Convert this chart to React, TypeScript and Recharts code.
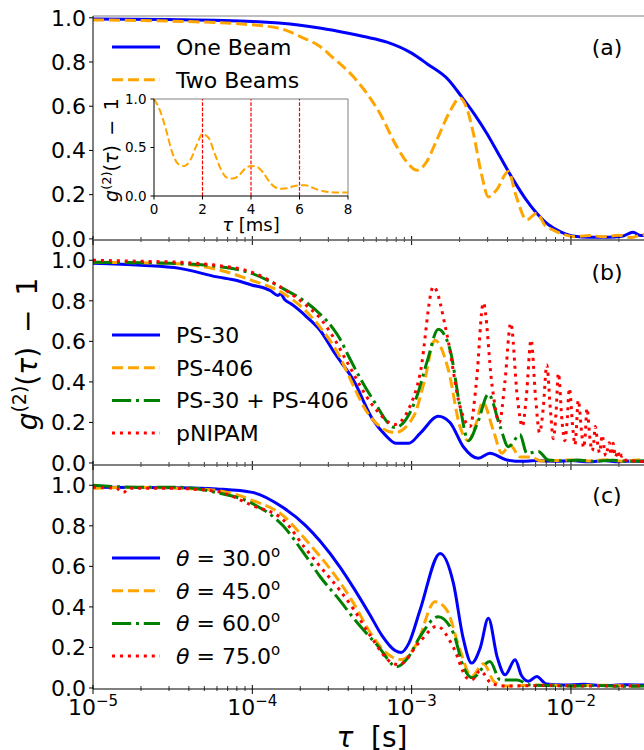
import React from "react";
import { LineChart, Line, XAxis, YAxis, ReferenceLine, Legend } from "recharts";

const FONT = "DejaVu Sans";

// tau [s], g2(tau)-1
type Pt = [number, number];

const oneBeam: Pt[] = [
  [1e-5, 0.995], [3e-5, 0.992], [1e-4, 0.983], [2e-4, 0.966], [2.7e-4, 0.953], [4e-4, 0.93],
  [5e-4, 0.915], [7e-4, 0.89], [1e-3, 0.84], [1.26e-3, 0.79], [1.7e-3, 0.72], [2.05e-3, 0.645],
  [2.5e-3, 0.56], [2.96e-3, 0.478], [3.6e-3, 0.37], [4.35e-3, 0.267], [5.2e-3, 0.18], [6.1e-3, 0.116],
  [7.2e-3, 0.065], [8.55e-3, 0.033], [1.05e-2, 0.012], [1.3e-2, 0.008], [1.7e-2, 0.008],
  [2.1e-2, 0.012], [2.45e-2, 0.03], [2.75e-2, 0.015], [3.1e-2, 0.02],
];
const twoBeams: Pt[] = [
  [1e-5, 0.99], [3e-5, 0.985], [1e-4, 0.968], [1.6e-4, 0.945], [2.0e-4, 0.915], [2.66e-4, 0.87],
  [3.2e-4, 0.82], [4.3e-4, 0.734], [6.3e-4, 0.569], [8.06e-4, 0.418], [9.5e-4, 0.34], [1.08e-3, 0.31],
  [1.22e-3, 0.34], [1.44e-3, 0.448], [1.75e-3, 0.58], [2.01e-3, 0.637], [2.22e-3, 0.59],
  [2.44e-3, 0.478], [2.75e-3, 0.29], [3.03e-3, 0.19], [3.4e-3, 0.22], [4.05e-3, 0.305],
  [4.5e-3, 0.2], [5.28e-3, 0.086], [6.1e-3, 0.116], [6.9e-3, 0.06], [7.76e-3, 0.04], [9e-3, 0.02],
  [1.05e-2, 0.01], [1.3e-2, 0.015], [1.6e-2, 0.01], [2.0e-2, 0.016], [2.4e-2, 0.006],
  [2.8e-2, 0.02], [3.1e-2, 0.012],
];

// inset: tau [ms], g2-1
const insetTwoBeams: Pt[] = [
  [0, 1.0], [0.25, 0.88], [0.5, 0.68], [0.75, 0.45], [1.0, 0.33], [1.25, 0.31], [1.5, 0.37],
  [1.75, 0.52], [2.0, 0.64], [2.25, 0.6], [2.5, 0.44], [2.75, 0.28], [3.0, 0.19], [3.25, 0.18],
  [3.5, 0.21], [3.75, 0.28], [4.0, 0.31], [4.25, 0.3], [4.5, 0.24], [4.75, 0.15], [5.0, 0.09],
  [5.25, 0.075], [5.5, 0.08], [5.75, 0.1], [6.0, 0.11], [6.25, 0.11], [6.5, 0.09], [6.75, 0.065],
  [7.0, 0.05], [7.25, 0.04], [7.5, 0.035], [7.75, 0.035], [8.0, 0.035],
];
const insetMarksMs = [2, 4, 6];

const ps30: Pt[] = [
  [1e-5, 0.985], [2e-5, 0.975], [3.5e-5, 0.96], [6e-5, 0.918], [8e-5, 0.9], [1e-4, 0.877],
  [1.2e-4, 0.862], [1.3e-4, 0.85], [1.45e-4, 0.826], [1.5e-4, 0.835], [1.6e-4, 0.805], [1.75e-4, 0.785],
  [2.2e-4, 0.72], [2.66e-4, 0.655], [3.3e-4, 0.54], [4.3e-4, 0.41], [5.75e-4, 0.21], [6.8e-4, 0.14],
  [8.0e-4, 0.097], [9.6e-4, 0.097], [1.13e-3, 0.146], [1.47e-3, 0.23], [1.74e-3, 0.2],
  [2.11e-3, 0.08], [2.62e-3, 0.023], [3.1e-3, 0.048], [3.95e-3, 0.015], [5e-3, 0.008],
  [6e-3, 0.012], [8e-3, 0.008], [1e-2, 0.012], [1.3e-2, 0.006], [1.6e-2, 0.012], [2e-2, 0.006],
  [2.5e-2, 0.01], [3.1e-2, 0.005],
];
const ps406: Pt[] = [
  [1e-5, 0.99], [3e-5, 0.985], [6e-5, 0.955], [1e-4, 0.9], [1.56e-4, 0.837], [2.2e-4, 0.745],
  [2.66e-4, 0.67], [3.56e-4, 0.52], [3.92e-4, 0.45], [5.48e-4, 0.23], [7.87e-4, 0.15],
  [1.03e-3, 0.23], [1.2e-3, 0.4], [1.4e-3, 0.605], [1.7e-3, 0.46], [2.01e-3, 0.18], [2.27e-3, 0.11],
  [2.55e-3, 0.2], [2.79e-3, 0.3], [3.26e-3, 0.16], [3.68e-3, 0.048], [4.15e-3, 0.089],
  [4.79e-3, 0.03], [5.6e-3, 0.03], [6.5e-3, 0.01], [8e-3, 0.012], [1e-2, 0.015], [1.3e-2, 0.01],
  [1.7e-2, 0.016], [2.1e-2, 0.008], [2.6e-2, 0.015], [3.1e-2, 0.01],
];
const psMix: Pt[] = [
  [1e-5, 0.99], [3e-5, 0.985], [6e-5, 0.97], [1e-4, 0.934], [1.56e-4, 0.86], [2.2e-4, 0.79],
  [2.66e-4, 0.735], [3.2e-4, 0.665], [3.56e-4, 0.61], [4.0e-4, 0.53], [5.75e-4, 0.31],
  [7.87e-4, 0.175], [1.08e-3, 0.33], [1.25e-3, 0.5], [1.47e-3, 0.66], [1.74e-3, 0.56],
  [2.01e-3, 0.28], [2.27e-3, 0.11], [2.6e-3, 0.2], [3.03e-3, 0.34], [3.59e-3, 0.18],
  [4.05e-3, 0.08], [4.79e-3, 0.14], [5.28e-3, 0.048], [6.24e-3, 0.056], [7.2e-3, 0.015],
  [9e-3, 0.01], [1.1e-2, 0.015], [1.4e-2, 0.008], [1.8e-2, 0.014], [2.3e-2, 0.008], [3.1e-2, 0.012],
];
const pnipam: Pt[] = [
  [1e-5, 1.0], [2e-5, 0.995], [3.5e-5, 0.99], [6e-5, 0.975], [1e-4, 0.94], [1.56e-4, 0.86],
  [2.2e-4, 0.775], [2.66e-4, 0.715], [3.2e-4, 0.625], [3.92e-4, 0.5], [5.75e-4, 0.28],
  [7.87e-4, 0.19], [9.5e-4, 0.26], [1.13e-3, 0.44], [1.37e-3, 0.87], [1.66e-3, 0.64],
  [2.01e-3, 0.28], [2.33e-3, 0.18], [2.55e-3, 0.4], [2.82e-3, 0.79], [3.2e-3, 0.38], [3.55e-3, 0.2],
  [3.85e-3, 0.4], [4.19e-3, 0.69], [4.6e-3, 0.33], [4.95e-3, 0.18], [5.25e-3, 0.33],
  [5.62e-3, 0.607], [6.0e-3, 0.32], [6.35e-3, 0.15], [6.7e-3, 0.27], [7.05e-3, 0.483],
  [7.45e-3, 0.25], [7.75e-3, 0.12], [8.05e-3, 0.24], [8.34e-3, 0.443], [8.8e-3, 0.2],
  [9.15e-3, 0.11], [9.45e-3, 0.2], [9.77e-3, 0.368], [1.03e-2, 0.16], [1.06e-2, 0.09],
  [1.08e-2, 0.16], [1.11e-2, 0.31], [1.17e-2, 0.14], [1.2e-2, 0.075], [1.23e-2, 0.14],
  [1.26e-2, 0.27], [1.32e-2, 0.11], [1.36e-2, 0.06], [1.39e-2, 0.1], [1.42e-2, 0.18],
  [1.48e-2, 0.08], [1.51e-2, 0.05], [1.54e-2, 0.09], [1.57e-2, 0.138], [1.63e-2, 0.05],
  [1.66e-2, 0.035], [1.7e-2, 0.07], [1.74e-2, 0.1], [1.79e-2, 0.04], [1.84e-2, 0.097],
  [1.9e-2, 0.03], [1.97e-2, 0.06], [2.04e-2, 0.02], [2.1e-2, 0.04], [2.2e-2, 0.015],
  [2.5e-2, 0.01], [3.1e-2, 0.005],
];

const theta30: Pt[] = [
  [1e-5, 0.99], [3.5e-5, 0.988], [6e-5, 0.982], [1e-4, 0.965], [1.56e-4, 0.89], [2.17e-4, 0.8],
  [2.66e-4, 0.725], [3.56e-4, 0.595], [4.31e-4, 0.495], [5.48e-4, 0.36], [6.5e-4, 0.26],
  [7.87e-4, 0.185], [8.6e-4, 0.175], [9.6e-4, 0.22], [1.13e-3, 0.385], [1.51e-3, 0.664],
  [1.83e-3, 0.516], [2.1e-3, 0.25], [2.38e-3, 0.123], [2.7e-3, 0.2], [3.03e-3, 0.344],
  [3.45e-3, 0.15], [3.86e-3, 0.065], [4.46e-3, 0.139], [4.9e-3, 0.06], [5.41e-3, 0.033],
  [6.1e-3, 0.057], [7e-3, 0.02], [9e-3, 0.015], [1.2e-2, 0.018], [1.6e-2, 0.012],
  [2.2e-2, 0.016], [3.1e-2, 0.014],
];
const theta45: Pt[] = [
  [1e-5, 0.985], [2e-5, 0.99], [3.5e-5, 0.985], [5.9e-5, 0.975], [1e-4, 0.926], [1.56e-4, 0.85],
  [2.17e-4, 0.73], [2.66e-4, 0.65], [3.56e-4, 0.52], [4.31e-4, 0.42], [5.48e-4, 0.275],
  [7.0e-4, 0.17], [8.67e-4, 0.14], [1.08e-3, 0.22], [1.4e-3, 0.426], [1.66e-3, 0.385],
  [2.01e-3, 0.188], [2.38e-3, 0.057], [2.82e-3, 0.12], [3.3e-3, 0.03], [3.8e-3, 0.01],
  [5e-3, 0.012], [7e-3, 0.015], [1e-2, 0.01], [1.5e-2, 0.014], [2.2e-2, 0.01], [3.1e-2, 0.012],
];
const theta60: Pt[] = [
  [1e-5, 1.0], [2e-5, 0.99], [3.5e-5, 0.99], [5.9e-5, 0.965], [1e-4, 0.91], [1.56e-4, 0.8],
  [2.17e-4, 0.65], [2.66e-4, 0.55], [3.56e-4, 0.43], [4.31e-4, 0.345], [6.18e-4, 0.205],
  [8.06e-4, 0.105], [9.5e-4, 0.15], [1.13e-3, 0.254], [1.47e-3, 0.352], [1.83e-3, 0.27],
  [2.11e-3, 0.106], [2.4e-3, 0.05], [3.1e-3, 0.131], [3.6e-3, 0.04], [4.6e-3, 0.04],
  [5.5e-3, 0.015], [7e-3, 0.012], [1e-2, 0.01], [1.5e-2, 0.012], [2.2e-2, 0.008], [3.1e-2, 0.01],
];
const theta75: Pt[] = [
  [1e-5, 0.99], [1.4e-5, 0.985], [1.55e-5, 0.965], [1.7e-5, 0.985], [3e-5, 0.985], [5.9e-5, 0.97],
  [1e-4, 0.9], [1.56e-4, 0.83], [2.17e-4, 0.685], [2.66e-4, 0.6], [3.56e-4, 0.48], [4.31e-4, 0.39],
  [5.48e-4, 0.26], [7.68e-4, 0.12], [8.3e-4, 0.115], [1.13e-3, 0.23], [1.44e-3, 0.305],
  [1.83e-3, 0.2], [2.22e-3, 0.05], [2.38e-3, 0.04], [2.69e-3, 0.085], [3.2e-3, 0.02],
  [4e-3, 0.01], [7e-3, 0.012], [1.2e-2, 0.01], [2e-2, 0.01], [3.1e-2, 0.012],
];

const angles = [30.0, 45.0, 60.0, 75.0];

const X_MIN = 1e-5;
const X_MAX = 3.18e-2;
const majorExps = [-5, -4, -3, -2];
const xTicks: number[] = [];
majorExps.forEach((e) => {
  for (let k = 1; k <= 9; k++) {
    const v = k * Math.pow(10, e);
    if (v <= X_MAX) xTicks.push(v);
  }
});
const yTicks = [0, 0.2, 0.4, 0.6, 0.8, 1.0];

const BLUE = "#0000ff";
const ORANGE = "#ffa500";
const GREEN = "#008000";
const RED = "#ff0000";
const DASHED = "11.1 4.8";
const DASHDOT = "19.2 4.8 3 4.8";
const DOTTED = "3 4.95";

type Series = { name: string; pts: Pt[]; color: string; dash?: string };

const panelA: Series[] = [
  { name: "One Beam", pts: oneBeam, color: BLUE },
  { name: "Two Beams", pts: twoBeams, color: ORANGE, dash: DASHED },
];
const panelB: Series[] = [
  { name: "PS-30", pts: ps30, color: BLUE },
  { name: "PS-406", pts: ps406, color: ORANGE, dash: DASHED },
  { name: "PS-30 + PS-406", pts: psMix, color: GREEN, dash: DASHDOT },
  { name: "pNIPAM", pts: pnipam, color: RED, dash: DOTTED },
];
const panelC: Series[] = [theta30, theta45, theta60, theta75].map((pts, i) => ({
  name: `θ = ${angles[i].toFixed(1)}`,
  pts,
  color: [BLUE, ORANGE, GREEN, RED][i],
  dash: [undefined, DASHED, DASHDOT, DOTTED][i],
}));

const rows = (pts: Pt[]) => pts.map(([tau, g]) => ({ tau, g }));

const LogTick = (props: any) => {
  const { x, y, payload, showLabel } = props;
  const e = Math.log10(payload.value);
  const major = Math.abs(e - Math.round(e)) < 1e-6;
  return (
    <g>
      <line x1={x} x2={x} y1={y - (major ? 4 : 3)} y2={y + (major ? 5 : 2)} stroke="#000" strokeWidth={major ? 1 : 0.8} />
      {showLabel && major && (
        <text x={x} y={y + 26} textAnchor="middle" fontFamily={FONT} fontSize={22} fill="#000">
          10<tspan dy={-9} fontSize={15}>{"−" + Math.abs(Math.round(e))}</tspan>
        </text>
      )}
    </g>
  );
};

const LegendLabel = ({ name }: { name: string }) => {
  if (name.startsWith("θ")) {
    return (
      <>
        <tspan fontStyle="italic">θ</tspan>
        {name.slice(1)}
        <tspan dy={-9} fontSize={15}>o</tspan>
      </>
    );
  }
  return <>{name}</>;
};

const LegendBox = ({ series, payload }: { series: Series[]; payload?: any[] }) => {
  const ROW = 32.7;
  return (
    <svg width={330} height={series.length * ROW + 10} style={{ overflow: "visible" }}>
      {series.map((s, i) => {
        const entry = (payload || []).find((p: any) => p.value === s.name);
        const cy = 16 + i * ROW;
        return (
          <g key={s.name}>
            <line x1={12} x2={60} y1={cy} y2={cy} stroke={entry?.color || s.color} strokeWidth={3} strokeDasharray={s.dash} />
            <text x={76} y={cy + 8} fontFamily={FONT} fontSize={22} fill="#000">
              <LegendLabel name={s.name} />
            </text>
          </g>
        );
      })}
    </svg>
  );
};

type PanelProps = {
  top: number;
  marginTop: number;
  plotH: number;
  axisH: number;
  yDomain: [number, number];
  series: Series[];
  legendTop: number;
  showXLabels?: boolean;
};

const Panel = ({ top, marginTop, plotH, axisH, yDomain, series, legendTop, showXLabels }: PanelProps) => (
  <div style={{ position: "absolute", left: 0, top }}>
    <LineChart width={660} height={marginTop + plotH + axisH} margin={{ top: marginTop, right: 9, bottom: 0, left: 0 }}>
      <XAxis
        type="number"
        dataKey="tau"
        scale="log"
        domain={[X_MIN, X_MAX]}
        allowDataOverflow
        ticks={xTicks}
        interval={0}
        height={axisH}
        tickLine={false}
        tickSize={0}
        tickMargin={0}
        axisLine={{ stroke: "#000", strokeWidth: 1 }}
        tick={(p: any) => <LogTick {...p} showLabel={showXLabels} />}
      />
      <YAxis
        type="number"
        domain={yDomain}
        allowDataOverflow
        ticks={yTicks}
        interval={0}
        width={93}
        tickSize={4}
        tickMargin={3}
        tickFormatter={(v: number) => v.toFixed(1)}
        tick={{ fontSize: 22, fill: "#000", fontFamily: FONT }}
        tickLine={{ stroke: "#000" }}
        axisLine={{ stroke: "#000" }}
      />
      <ReferenceLine y={yDomain[1]} stroke="#808080" strokeWidth={1} />
      {series.map((s) => (
        <Line
          key={s.name}
          name={s.name}
          data={rows(s.pts)}
          dataKey="g"
          type="monotone"
          stroke={s.color}
          strokeWidth={3}
          strokeDasharray={s.dash}
          strokeLinejoin="round"
          dot={false}
          activeDot={false}
          isAnimationActive={false}
        />
      ))}
      <Legend
        layout="vertical"
        align="center"
        verticalAlign="middle"
        wrapperStyle={{ left: 100, top: legendTop, width: 330 }}
        content={(props: any) => <LegendBox series={series} payload={props.payload} />}
      />
    </LineChart>
  </div>
);

const Inset = () => (
  <div style={{ position: "absolute", left: 114, top: 94 }}>
    <LineChart width={239} height={138} margin={{ top: 5, right: 5, bottom: 0, left: 0 }}>
      <XAxis
        type="number"
        dataKey="ms"
        domain={[0, 8]}
        ticks={[0, 2, 4, 6, 8]}
        interval={0}
        height={36}
        tickSize={3.5}
        tickMargin={5}
        tick={{ fontSize: 13.5, fill: "#000", fontFamily: FONT }}
        tickLine={{ stroke: "#000" }}
        axisLine={{ stroke: "#000" }}
      />
      <YAxis
        type="number"
        domain={[0, 1]}
        ticks={[0, 0.5, 1]}
        interval={0}
        width={40}
        tickSize={3.5}
        tickMargin={4}
        tickFormatter={(v: number) => v.toFixed(1)}
        tick={{ fontSize: 13.5, fill: "#000", fontFamily: FONT }}
        tickLine={{ stroke: "#000" }}
        axisLine={{ stroke: "#000" }}
      />
      <ReferenceLine y={1} stroke="#808080" />
      <ReferenceLine x={8} stroke="#808080" />
      {insetMarksMs.map((m) => (
        <ReferenceLine key={m} x={m} stroke={RED} strokeWidth={1.2} strokeDasharray="3.7 1.6" />
      ))}
      <Line
        data={insetTwoBeams.map(([ms, g]) => ({ ms, g }))}
        dataKey="g"
        type="monotone"
        stroke={ORANGE}
        strokeWidth={2}
        strokeDasharray="7.4 3.2"
        dot={false}
        activeDot={false}
        isAnimationActive={false}
      />
    </LineChart>
  </div>
);

const Texts = () => (
  <svg width={644} height={750} style={{ position: "absolute", left: 0, top: 0, pointerEvents: "none" }} fontFamily={FONT}>
    <text transform="translate(37,354) rotate(-90)" textAnchor="middle" fontSize={28} fill="#000">
      <tspan fontStyle="italic">g</tspan>
      <tspan dy={-11} fontSize={19}>(2)</tspan>
      <tspan dy={11}>(</tspan>
      <tspan fontStyle="italic">τ</tspan>
      <tspan>){"\u2002−\u2002"}1</tspan>
    </text>
    <text x={372} y={747} textAnchor="middle" fontSize={28} fill="#000">
      <tspan fontStyle="italic">τ</tspan>
      <tspan>{"\u00a0\u00a0[s]"}</tspan>
    </text>
    <text x={607} y={55} textAnchor="middle" fontSize={22} fill="#000">(a)</text>
    <text x={607} y={280} textAnchor="middle" fontSize={22} fill="#000">(b)</text>
    <text x={607} y={503} textAnchor="middle" fontSize={22} fill="#000">(c)</text>
    <text x={251} y={231} textAnchor="middle" fontSize={18} fill="#000">
      <tspan fontStyle="italic">τ</tspan>
      <tspan>{"\u00a0[ms]"}</tspan>
    </text>
    <text transform="translate(118,150) rotate(-90)" textAnchor="middle" fontSize={19} fill="#000">
      <tspan fontStyle="italic">g</tspan>
      <tspan dy={-7.5} fontSize={13}>(2)</tspan>
      <tspan dy={7.5}>(</tspan>
      <tspan fontStyle="italic">τ</tspan>
      <tspan>){"\u2002−\u2002"}1</tspan>
    </text>
  </svg>
);

export default function App() {
  return (
    <div style={{ position: "relative", width: 644, height: 750, overflow: "hidden", background: "#fff", fontFamily: FONT }}>
      <style>{"body{margin:0}"}</style>
      <Panel top={0} marginTop={16} plotH={224} axisH={10} yDomain={[-0.005, 1.008]} series={panelA} legendTop={30.7} />
      <Panel top={230} marginTop={10} plotH={225} axisH={10} yDomain={[-0.01, 1.1]} series={panelB} legendTop={89} />
      <Panel top={455} marginTop={10} plotH={224} axisH={61} yDomain={[-0.005, 1.1]} series={panelC} legendTop={87.3} showXLabels />
      <Inset />
      <Texts />
    </div>
  );
}
